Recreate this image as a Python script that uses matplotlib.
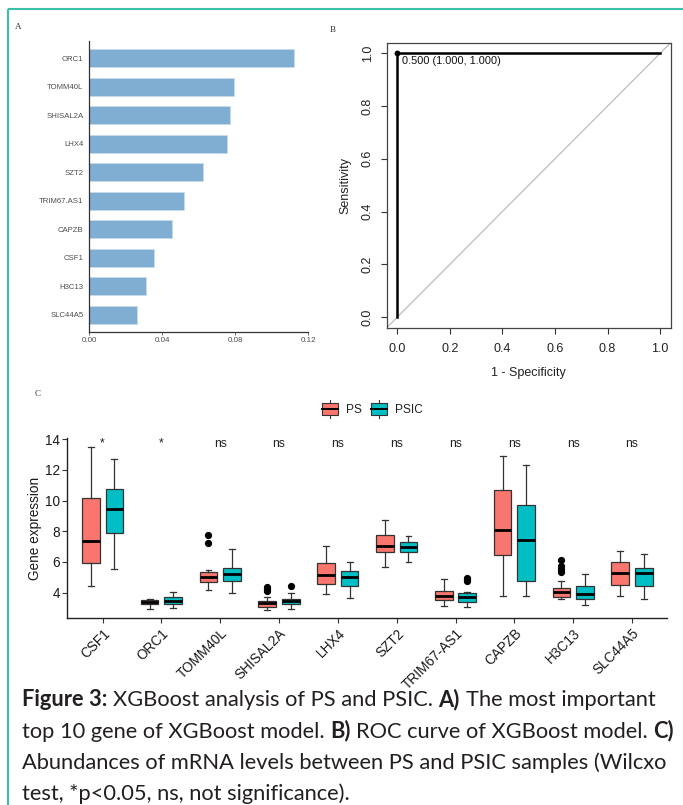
import matplotlib
matplotlib.use("Agg")
import matplotlib.pyplot as plt
from matplotlib.patches import Rectangle

# ---------------- data ----------------
imp_genes = ["ORC1", "TOMM40L", "SHISAL2A", "LHX4", "SZT2", "TRIM67.AS1",
             "CAPZB", "CSF1", "H3C13", "SLC44A5"]
imp_values = [0.1120, 0.0792, 0.0773, 0.0755, 0.0624, 0.0520, 0.0452, 0.0357, 0.0312, 0.0263]

roc_fpr = [0.0, 0.0, 1.0]
roc_tpr = [0.0, 1.0, 1.0]
roc_best = (0.0, 1.0)
roc_label = "0.500 (1.000, 1.000)"

box_genes = ["CSF1", "ORC1", "TOMM40L", "SHISAL2A", "LHX4", "SZT2",
             "TRIM67-AS1", "CAPZB", "H3C13", "SLC44A5"]
groups = ["PS", "PSIC"]
sig_labels = ["*", "*", "ns", "ns", "ns", "ns", "ns", "ns", "ns", "ns"]

ps_whislo = [4.46, 2.93, 4.20, 2.87, 3.93, 5.70, 3.15, 3.78, 3.61, 3.80]
ps_q1     = [5.96, 3.26, 4.67, 3.09, 4.59, 6.67, 3.52, 6.43, 3.74, 4.52]
ps_med    = [7.37, 3.38, 5.03, 3.34, 5.17, 7.07, 3.78, 8.09, 4.07, 5.30]
ps_q3     = [10.15, 3.51, 5.37, 3.48, 5.91, 7.74, 4.11, 10.67, 4.33, 5.98]
ps_whishi = [13.52, 3.60, 5.46, 3.74, 7.02, 8.72, 4.87, 12.93, 4.78, 6.74]
ps_fliers = [[], [], [7.75, 7.22], [4.38, 4.24, 4.10], [], [], [], [],
             [6.13, 5.72, 5.52, 5.32], []]

psic_whislo = [5.57, 2.98, 3.99, 2.92, 3.67, 5.98, 3.07, 3.78, 3.22, 3.61]
psic_q1     = [7.91, 3.27, 4.73, 3.27, 4.46, 6.63, 3.39, 4.74, 3.57, 4.43]
psic_med    = [9.48, 3.48, 5.21, 3.44, 5.04, 6.96, 3.74, 7.43, 3.89, 5.28]
psic_q3     = [10.74, 3.70, 5.63, 3.61, 5.41, 7.28, 3.96, 9.70, 4.43, 5.63]
psic_whishi = [12.70, 4.05, 6.83, 3.96, 5.98, 7.70, 4.02, 12.35, 5.20, 6.52]
psic_fliers = [[], [], [], [4.45], [], [], [4.98, 4.87, 4.77], [], [], []]

c_ps, c_psic = "#F8766D", "#00BFC4"

# ---------------- figure ----------------
W, H = 683, 805
fig = plt.figure(figsize=(W / 100, H / 100), dpi=100)
plt.rcParams["font.family"] = ["Liberation Sans", "DejaVu Sans"]


def ax_px(l, t, r, b):
    return fig.add_axes([l / W, 1 - b / H, (r - l) / W, (b - t) / H])


# ---------- Panel A ----------
axA = ax_px(89, 41, 308.3, 331.7)
ypos = list(range(len(imp_genes)))
axA.barh(ypos, imp_values, height=0.63, color="#80AED3",
         edgecolor="#C8DBEA", linewidth=0.6)
axA.set_ylim(len(imp_genes) - 0.4, -0.6)
axA.set_xlim(0, 0.12)
axA.set_yticks(ypos)
axA.set_yticklabels(imp_genes)
axA.set_xticks([0, 0.04, 0.08, 0.12])
axA.set_xticklabels(["0.00", "0.04", "0.08", "0.12"])
axA.tick_params(axis="y", length=0, pad=4, labelsize=5.6, labelcolor="#4d4d4d")
axA.tick_params(axis="x", length=2.5, width=0.6, pad=1.5, labelsize=5.8,
                labelcolor="#4d4d4d", color="#555555")
for s in ["top", "right"]:
    axA.spines[s].set_visible(False)
for s in ["left", "bottom"]:
    axA.spines[s].set_color("#333333")
    axA.spines[s].set_linewidth(0.9)

# ---------- Panel B ----------
axB = ax_px(386.7, 42.7, 670.7, 327.7)
axB.set_xlim(-0.04, 1.04)
axB.set_ylim(-0.04, 1.04)
axB.axline((0, 0), (1, 1), color="#bdbdbd", linewidth=0.9, zorder=1)
axB.plot(roc_fpr, roc_tpr, color="black", linewidth=1.8, zorder=3)
axB.plot([roc_best[0]], [roc_best[1]], "o", color="black", markersize=3.2, zorder=4)
axB.text(roc_best[0] + 0.02, roc_best[1] - 0.03, roc_label, fontsize=7.9,
         ha="left", va="center", color="#111111")
ticks = [0.0, 0.2, 0.4, 0.6, 0.8, 1.0]
axB.set_xticks(ticks)
axB.set_yticks(ticks)
axB.set_xticklabels([f"{t:.1f}" for t in ticks])
axB.set_yticklabels([f"{t:.1f}" for t in ticks], rotation=90, va="center")
axB.tick_params(length=4.2, width=0.8, color="#333333", labelsize=9,
                labelcolor="#222222")
axB.tick_params(axis="x", pad=6.5)
axB.tick_params(axis="y", pad=5)
for s in axB.spines.values():
    s.set_color("#444444")
    s.set_linewidth(0.9)

# ---------- Panel C ----------
axC = ax_px(67.3, 438, 667.3, 618)
pos = list(range(1, len(box_genes) + 1))
off, bw = 0.2, 0.3


def make_stats(lo, q1, med, q3, hi, fl):
    return [dict(whislo=a, q1=b, med=c, q3=d, whishi=e, fliers=f)
            for a, b, c, d, e, f in zip(lo, q1, med, q3, hi, fl)]


for stats, shift, col in [
    (make_stats(ps_whislo, ps_q1, ps_med, ps_q3, ps_whishi, ps_fliers), -off, c_ps),
    (make_stats(psic_whislo, psic_q1, psic_med, psic_q3, psic_whishi, psic_fliers), off, c_psic),
]:
    axC.bxp(stats, positions=[p + shift for p in pos], widths=bw,
            patch_artist=True, showfliers=True, capwidths=0.1,
            boxprops=dict(facecolor=col, edgecolor="#333333", linewidth=0.9),
            medianprops=dict(color="black", linewidth=2.0),
            whiskerprops=dict(color="#333333", linewidth=0.9),
            capprops=dict(color="#333333", linewidth=0.9),
            flierprops=dict(marker="o", markerfacecolor="black",
                            markeredgecolor="black", markersize=4.2))

for p, lab in zip(pos, sig_labels):
    axC.text(p, 13.52, lab, ha="center", va="baseline", fontsize=8.7, color="#222222")

axC.set_xlim(0.4, 10.6)
axC.set_ylim(2.35, 14.08)
axC.set_xticks(pos)
axC.set_xticklabels(box_genes, rotation=45, ha="right", va="top",
                    rotation_mode="anchor")
axC.set_yticks([4, 6, 8, 10, 12, 14])
axC.tick_params(length=3.5, width=0.8, color="#333333", labelsize=9.8,
                labelcolor="#1a1a1a")
axC.tick_params(axis="y", pad=1.5)
axC.tick_params(axis="x", pad=2.5)
for s in ["top", "right"]:
    axC.spines[s].set_visible(False)
for s in ["left", "bottom"]:
    axC.spines[s].set_color("#222222")
    axC.spines[s].set_linewidth(1.0)

# ---------- overlay (labels, legend, border, caption) ----------
ov = fig.add_axes([0, 0, 1, 1])
ov.set_xlim(0, W)
ov.set_ylim(H, 0)
ov.axis("off")

teal = "#3BBFA6"
ov.plot([7.5, 7.5], [H, 9.5], color=teal, linewidth=1.5, solid_capstyle="butt")
ov.plot([7.5, W], [9.5, 9.5], color=teal, linewidth=1.5, solid_capstyle="butt")

for (x, y, s) in [(15, 27, "A"), (330, 30, "B"), (35, 394, "C")]:
    ov.text(x, y, s, fontsize=6.5, family=["Liberation Serif", "DejaVu Serif"],
            ha="left", va="center", color="#333333")

ov.text(35, 528, "Gene expression", rotation=90, ha="center", va="center",
        fontsize=9.8, color="#1a1a1a")
ov.text(345, 185, "Sensitivity", rotation=90, ha="center", va="center",
        fontsize=9, color="#222222")
ov.text(528.7, 373, "1 - Specificity", ha="center", va="center",
        fontsize=9, color="#222222")

# legend
for (kx, tx, col, lab) in [(322, 346, c_ps, groups[0]), (371, 395, c_psic, groups[1])]:
    ov.add_patch(Rectangle((kx, 403), 16, 12, facecolor=col, edgecolor="#333333",
                           linewidth=0.8))
    ov.plot([kx, kx + 16], [409, 409], color="black", linewidth=1.4)
    ov.plot([kx + 8, kx + 8], [400, 403], color="#333333", linewidth=0.8)
    ov.plot([kx + 8, kx + 8], [415, 418], color="#333333", linewidth=0.8)
    ov.text(tx, 409.5, lab, ha="left", va="center", fontsize=8.6, color="#222222")

# caption
cap_font = ["Lato", "DejaVu Sans"]
renderer = fig.canvas.get_renderer()


def text_w(s, fs, bold):
    t = ov.text(0, 0, s, fontsize=fs, fontweight="bold" if bold else "normal",
                family=cap_font)
    w = t.get_window_extent(renderer=renderer).width
    t.remove()
    return w


cap_lines = [
    [("Figure 3:", True), ("XGBoost analysis of PS and PSIC.", False), ("A)", True),
     ("The most important", False)],
    [("top 10 gene of XGBoost model.", False), ("B)", True),
     ("ROC curve of XGBoost model.", False), ("C)", True)],
    [("Abundances of mRNA levels between PS and PSIC samples (Wilcxo", False)],
    [("test, *p<0.05, ns, not significance).", False)],
]


def line_width(pieces, fs):
    sp = text_w("x x", fs, False) - text_w("xx", fs, False)
    return sum(text_w(s, fs, b) for s, b in pieces) + sp * (len(pieces) - 1)


fs0 = 10.0
cap_fs = fs0 * 635.0 / line_width(cap_lines[0], fs0)
space = text_w("x x", cap_fs, False) - text_w("xx", cap_fs, False)
baselines = [706, 737.5, 769, 800]
for pieces, yb in zip(cap_lines, baselines):
    x = 22
    for s, b in pieces:
        ov.text(x, yb, s, fontsize=cap_fs, fontweight="bold" if b else "normal",
                family=cap_font, ha="left", va="baseline", color="#231f20")
        x += text_w(s, cap_fs, b) + space

fig.savefig("out.png", dpi=100)
